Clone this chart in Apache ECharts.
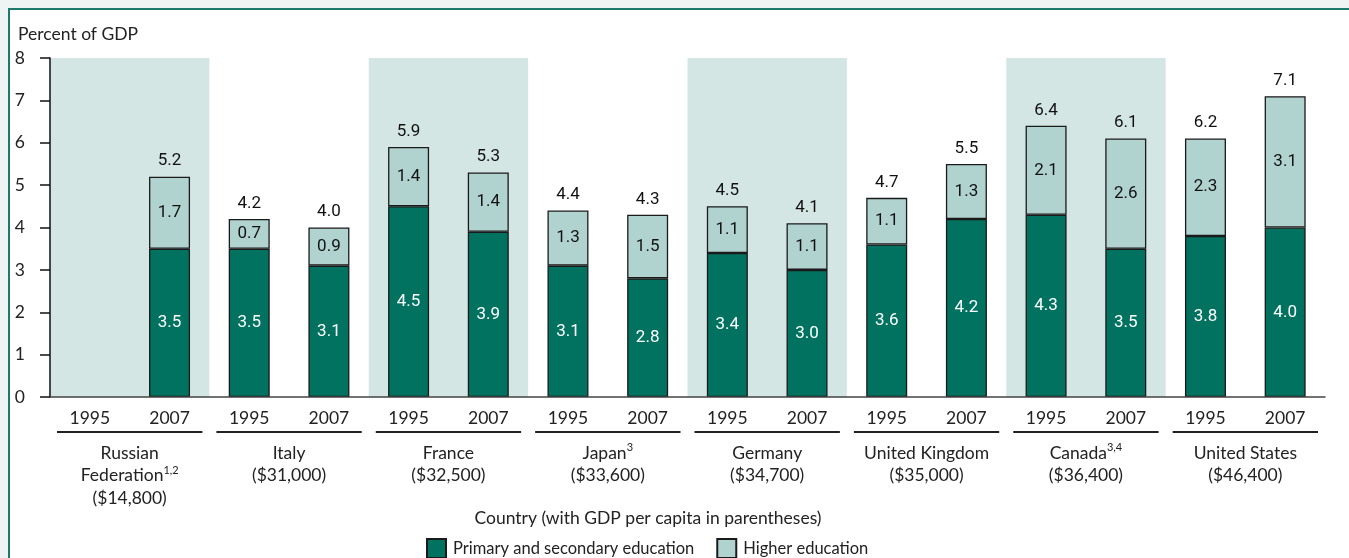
<!DOCTYPE html>
<html>
<head>
<meta charset="utf-8">
<script src="https://cdn.jsdelivr.net/npm/echarts@6/dist/echarts.min.js"></script>
<style>
html,body{margin:0;padding:0;background:#eef3f3;}
#outer{position:relative;width:1349px;height:558px;overflow:hidden;background:#eef3f3;}
#frame{position:absolute;left:8px;top:8px;right:0;bottom:0;background:#fff;border-top:2px solid #1b7a6b;border-left:2px solid #1b7a6b;}
#chart{position:absolute;left:0;top:0;width:1349px;height:558px;}
</style>
</head>
<body>
<div id="outer"><div id="frame"></div><div id="chart"></div></div>
<script>
var years = ['1995','2007','1995','2007','1995','2007','1995','2007','1995','2007','1995','2007','1995','2007','1995','2007'];
var primary = [null,3.5, 3.5,3.1, 4.5,3.9, 3.1,2.8, 3.4,3.0, 3.6,4.2, 4.3,3.5, 3.8,4.0];
var higher  = [null,1.7, 0.7,0.9, 1.4,1.4, 1.3,1.5, 1.1,1.1, 1.1,1.3, 2.1,2.6, 2.3,3.1];
var totals  = [null,5.2, 4.2,4.0, 5.9,5.3, 4.4,4.3, 4.5,4.1, 4.7,5.5, 6.4,6.1, 6.2,7.1];
var countryLines = [['Russian','Federation'],['Italy'],['France'],['Japan'],['Germany'],['United Kingdom'],['Canada'],['United States']];
var countrySup = ['1,2','','','3','','','3,4',''];
var countryGdp = ['($14,800)','($31,000)','($32,500)','($33,600)','($34,700)','($35,000)','($36,400)','($46,400)'];
var shaded = [8,null,8,null,8,null,8,null];
var yTicks = [0,1,2,3,4,5,6,7,8];

var DARK = '#00725f', LIGHT = '#b1d3d0', SHADE = '#d3e6e3';
var FONT = 'Lato';
var FS = 17.5;

var chart = echarts.init(document.getElementById('chart'), null, {renderer:'canvas'});
var option = {
  backgroundColor: 'transparent',
  animation: false,
  textStyle: {fontFamily: FONT},
  title: [
    {text: 'Percent of GDP', left: 13, top: 20, textStyle: {fontFamily: FONT, fontSize: FS, fontWeight: 'normal', color: '#222'}},
    {text: 'Country (with GDP per capita in parentheses)', left: 648, top: 509, padding: 0, textAlign: 'center',
     textStyle: {fontFamily: FONT, fontSize: FS, fontWeight: 'normal', color: '#222'}}
  ],
  legend: {
    data: ['Primary and secondary education','Higher education'],
    left: 426, top: 538, padding: 0, itemWidth: 19, itemHeight: 19, itemGap: 22,
    icon: 'rect',
    textStyle: {fontFamily: FONT, fontSize: 16.5, color: '#222', padding: [0,0,0,2]}
  },
  grid: {left: 50, right: 24, top: 58, bottom: 161, containLabel: false},
  xAxis: [
    {type: 'category', data: years, z: 5,
     axisLine: {show: true, lineStyle: {color: '#444', width: 1.5}},
     axisTick: {show: false},
     axisLabel: {interval: 0, margin: 12, fontFamily: FONT, fontSize: FS, color: '#222'}},
    {type: 'category', data: countryGdp, position: 'bottom', z: 5,
     axisLine: {show: false}, axisTick: {show: false},
     axisLabel: {interval: 0, margin: 45, color: '#222',
       formatter: function (v, i) {
         var ls = countryLines[i];
         var s = '';
         for (var k = 0; k < ls.length; k++) {
           s += '{n|' + ls[k] + '}';
           if (k === ls.length - 1 && countrySup[i]) s += '{s|' + countrySup[i] + '}';
           s += '\n';
         }
         s += '{n|' + countryGdp[i] + '}';
         return s;
       },
       rich: {
         n: {fontFamily: FONT, fontSize: FS, lineHeight: 22.5, color: '#222'},
         s: {fontFamily: FONT, fontSize: 11, lineHeight: 17, verticalAlign: 'top', color: '#222'}
       }}
    }
  ],
  yAxis: {
    type: 'value', min: 0, max: 8, interval: 1, z: 5,
    axisLine: {show: true, lineStyle: {color: '#111', width: 1.5}},
    axisTick: {show: true, inside: false, length: 10, lineStyle: {color: '#111', width: 1.5}},
    splitLine: {show: false},
    axisLabel: {margin: 25, fontFamily: FONT, fontSize: FS, color: '#222',
      formatter: function (v) { return yTicks.indexOf(v) >= 0 ? String(v) : ''; }}
  },
  series: [
    {name: 'shade', type: 'bar', xAxisIndex: 1, data: shaded, barWidth: '100%', z: 0, silent: true,
     itemStyle: {color: SHADE}},
    {name: 'lines', type: 'custom', xAxisIndex: 1, silent: true, clip: false, z: 3,
     data: [[0,0],[1,0],[2,0],[3,0],[4,0],[5,0],[6,0],[7,0]],
     encode: {x: 0, y: 1},
     renderItem: function (params, api) {
       var c = api.coord([api.value(0), 0]);
       var w = api.size([1, 0])[0];
       return {type: 'line', shape: {x1: c[0] - w/2 + 7, y1: c[1] + 35, x2: c[0] + w/2 - 7, y2: c[1] + 35},
               style: {stroke: '#222', lineWidth: 2}};
     }},
    {name: 'Primary and secondary education', type: 'bar', stack: 'a', xAxisIndex: 0, data: primary, barWidth: 41, z: 2,
     itemStyle: {color: DARK, borderColor: '#1a1a1a', borderWidth: 1.3},
     label: {show: true, position: 'inside', color: '#fff', fontFamily: 'Roboto', fontSize: 17,
       formatter: function (p) { return p.value == null ? '' : p.value.toFixed(1); }}},
    {name: 'Higher education', type: 'bar', stack: 'a', xAxisIndex: 0, data: higher, barWidth: 41, z: 2,
     itemStyle: {color: LIGHT, borderColor: '#1a1a1a', borderWidth: 1.3},
     label: {show: true, position: 'inside', color: '#111', fontFamily: 'Roboto', fontSize: 17,
       formatter: function (p) { return p.value == null ? '' : p.value.toFixed(1); }}},
    {name: 'total', type: 'bar', stack: 'a', xAxisIndex: 0, barWidth: 41, z: 2, silent: true,
     data: totals.map(function (t) { return t == null ? null : 0; }),
     itemStyle: {color: 'rgba(0,0,0,0)', borderWidth: 0},
     label: {show: true, position: 'top', distance: 7, color: '#111', fontFamily: 'Roboto', fontSize: 17,
       formatter: function (p) { var t = totals[p.dataIndex]; return t == null ? '' : t.toFixed(1); }}}
  ]
};
chart.setOption(option);
</script>
</body>
</html>
